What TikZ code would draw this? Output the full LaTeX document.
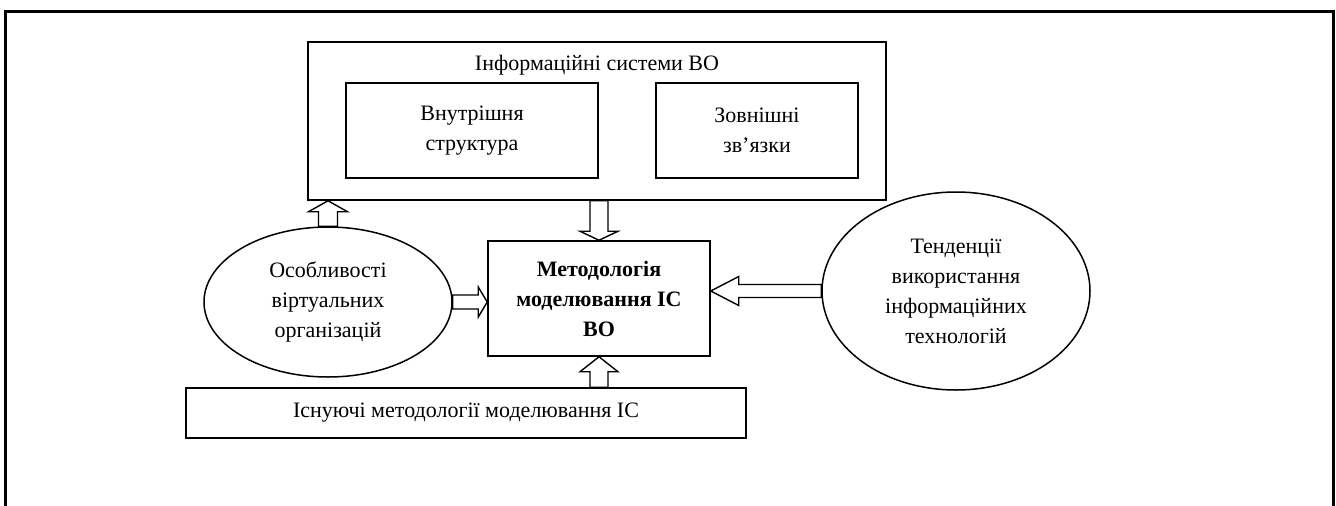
\documentclass[tikz,border=0pt]{standalone}
\usepackage{fontspec}
\setmainfont{Liberation Serif}
\usetikzlibrary{calc,shapes.geometric}
\tikzset{
  box/.style={draw, line width=1.5pt, inner sep=0pt, align=center},
  oval/.style={draw, ellipse, line width=1.5pt, inner sep=0pt, align=center},
  txt/.style={font=\fontsize{22}{30}\selectfont, align=center},
  barrow/.style={draw, line width=1.4pt, fill=white, line join=miter},
  frame/.style={line width=3pt}
}
\newcommand\barrow[5]{%
  \coordinate (ba-h) at ($(#2)!#5!(#1)$);
  \draw[barrow] ($(#1)!#3!90:(#2)$) -- ($(ba-h)!#3!90:(#2)$) -- ($(ba-h)!#4!90:(#2)$) -- (#2)
    -- ($(ba-h)!#4!-90:(#2)$) -- ($(ba-h)!#3!-90:(#2)$) -- ($(#1)!#3!-90:(#2)$) -- cycle;}
\begin{document}
\begin{tikzpicture}[x=1pt,y=-1pt]
\useasboundingbox (0,0) rectangle (1336,506);
\draw[frame] (5,506) -- (5,11.5) -- (1333,11.5) -- (1333,506);
% top box
\node[box, minimum width=578pt, minimum height=158pt] (is) at (597,121) {};
\node[txt] (ist) at (597,65) {Інформаційні системи ВО};
\node[box, txt, minimum width=252pt, minimum height=95pt] (vs) at (472,130.5) {Внутрішня\\структура};
\node[box, txt, minimum width=202pt, minimum height=95pt] (zz) at (757,130.5) {Зовнішні\\зв’язки};
% center
\node[box, txt, font=\fontsize{22}{30}\selectfont\bfseries, minimum width=222pt, minimum height=115pt] (cm) at (599,298.5) {Методологія\\моделювання ІС\\ВО};
% ellipses
\node[oval, txt, minimum width=248pt, minimum height=150pt] (lel) at (328,302) {Особливості\\віртуальних\\організацій};
\node[oval, txt, minimum width=268pt, minimum height=198pt] (rel) at (956,291) {Тенденції\\використання\\інформаційних\\технологій};
% bottom
\node[box, txt, minimum width=560pt, minimum height=50pt] (bt) at (466,413) {Існуючі методології моделювання ІС};
% arrows
\coordinate (a1) at (lel.north |- is.south);
\barrow{lel.north}{a1}{9.5pt}{19.5pt}{11pt}
\coordinate (a2) at (is.south -| cm.north);
\barrow{a2}{cm.north}{9pt}{19pt}{9pt}
\coordinate (a3) at (cm.west |- lel.east);
\barrow{lel.east}{a3}{7pt}{15pt}{9pt}
\coordinate (a4) at (cm.east |- rel.west);
\barrow{rel.west}{a4}{6.5pt}{14.5pt}{28pt}
\coordinate (a5) at (bt.north -| cm.south);
\barrow{a5}{cm.south}{9pt}{19pt}{15pt}
\end{tikzpicture}
\end{document}
